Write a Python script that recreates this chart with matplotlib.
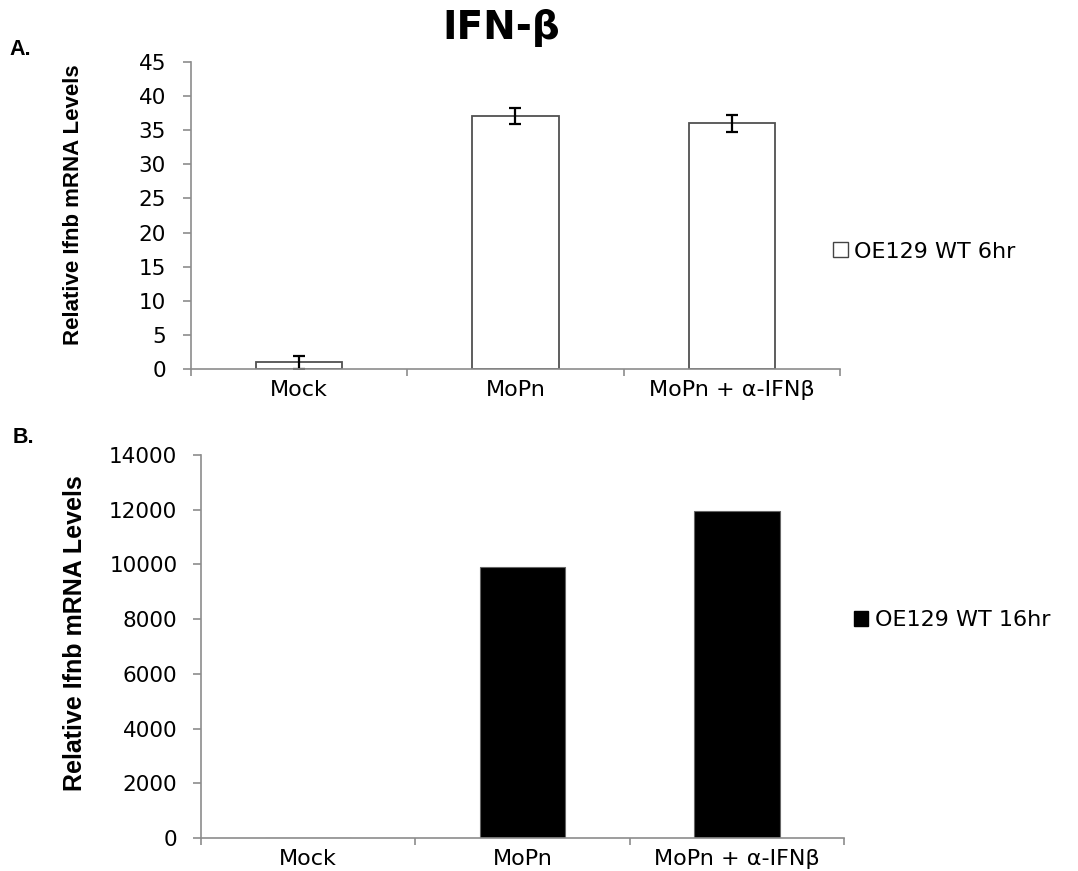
import matplotlib.pyplot as plt
from matplotlib.patches import Patch
from matplotlib.ticker import FixedLocator, NullFormatter

plt.rcParams['font.family'] = ['DejaVu Sans']

categories = ["Mock", "MoPn", "MoPn + α-IFNβ"]

# 6hr panel (A)
levels_6hr = [1.0, 37.1, 36.0]
err_6hr = [0.95, 1.2, 1.3]

# 16hr panel (B)
levels_16hr = [0, 9900, 11950]

axis_gray = "#8c8c8c"
label_font = dict(family=["Liberation Sans", "DejaVu Sans"], fontweight="bold")


def style_axis(ax, ymax, ystep, ypad):
    x = range(len(categories))
    ax.set_xlim(-0.5, len(categories) - 0.5)
    ax.set_ylim(0, ymax)
    ax.set_yticks(range(0, ymax + 1, ystep))
    ax.set_xticks(list(x))
    ax.set_xticklabels(categories, fontsize=16)
    ax.xaxis.set_minor_locator(FixedLocator([i - 0.5 for i in range(len(categories) + 1)]))
    ax.xaxis.set_minor_formatter(NullFormatter())
    ax.tick_params(axis="x", which="major", length=0, pad=8)
    ax.tick_params(axis="x", which="minor", length=5, color=axis_gray, width=1.2)
    ax.tick_params(axis="y", length=6, color=axis_gray, width=1.2, labelsize=15.5, pad=ypad)
    for s in ["top", "right"]:
        ax.spines[s].set_visible(False)
    for s in ["left", "bottom"]:
        ax.spines[s].set_color(axis_gray)
        ax.spines[s].set_linewidth(1.2)


fig = plt.figure(figsize=(10.78, 8.71), dpi=100)

ax1 = fig.add_axes([0.1772, 0.5763, 0.602, 0.3525])
ax1.bar(range(3), levels_6hr, width=0.4, color="white", edgecolor="#505050", linewidth=1.3,
        yerr=err_6hr, error_kw=dict(ecolor="black", elinewidth=1.6, capsize=4.5, capthick=1.6))
style_axis(ax1, 45, 5, 12)

ax2 = fig.add_axes([0.1865, 0.0379, 0.5965, 0.4397])
ax2.bar(range(3), levels_16hr, width=0.4, color="black", edgecolor="#666666", linewidth=0.8)
style_axis(ax2, 14000, 2000, 11)

# y-axis titles placed in figure coordinates
fig.text(0.068, 0.765, "Relative Ifnb mRNA Levels", rotation=90, ha="center", va="center",
         fontsize=16, **label_font)
fig.text(0.070, 0.273, "Relative Ifnb mRNA Levels", rotation=90, ha="center", va="center",
         fontsize=18, **label_font)

legend_kw = dict(loc="center left", frameon=False, fontsize=16, handlelength=0.65, handleheight=0.65,
                 handletextpad=0.3, borderpad=0, borderaxespad=0)
fig.legend(handles=[Patch(facecolor="white", edgecolor="#444444", linewidth=1.0, label="OE129 WT 6hr")],
           bbox_to_anchor=(0.773, 0.711), **legend_kw)
fig.legend(handles=[Patch(facecolor="black", edgecolor="black", label="OE129 WT 16hr")],
           bbox_to_anchor=(0.792, 0.288), **legend_kw)

fig.text(0.465, 0.968, "IFN-β", fontsize=28, fontweight="bold", ha="center", va="center")
fig.text(0.009, 0.943, "A.", fontsize=15.5, ha="left", va="center", **label_font)
fig.text(0.012, 0.498, "B.", fontsize=15.5, ha="left", va="center", **label_font)

fig.savefig("out.png", dpi=100)
